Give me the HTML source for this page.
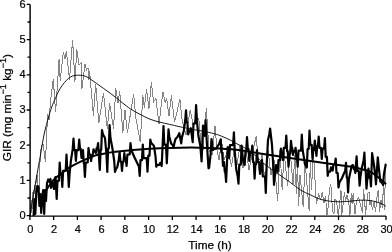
<!DOCTYPE html>
<html><head><meta charset="utf-8"><style>
html,body{margin:0;padding:0;background:#fff;}
body{width:392px;height:252px;overflow:hidden;font-family:"Liberation Sans",sans-serif;}
svg{display:block;} text{filter:grayscale(1);}
</style></head><body>
<svg width="392" height="252" viewBox="0 0 392 252">
<polyline points="30.5,216.0 31.2,200.0 31.9,213.0 32.6,192.0 33.3,208.0 34.2,185.0 35.2,196.0 36.3,178.0 37.0,175.0 38.8,196.0 40.4,152.0 42.0,145.0 43.0,144.0 45.5,162.0 47.6,114.0 49.0,120.0 50.7,100.0 53.3,79.3 55.6,112.0 59.1,59.2 60.2,80.8 63.3,52.2 64.9,59.2 66.4,50.7 69.5,80.0 72.6,39.9 74.9,81.6 76.8,49.1 79.0,65.0 81.1,63.0 81.9,89.3 85.0,63.8 86.5,70.0 88.0,67.7 88.8,80.0 89.6,71.5 93.4,115.5 95.7,84.0 98.8,123.0 103.5,93.0 107.3,129.0 109.6,103.0 113.5,128.6 115.8,88.5 118.1,103.0 119.7,91.0 122.8,133.0 125.0,110.0 127.4,133.0 133.6,94.0 136.0,119.0 140.3,142.0 142.8,95.5 144.3,107.8 146.6,89.3 149.0,108.6 151.3,82.3 153.6,101.6 155.9,98.5 159.0,124.3 162.9,91.6 165.2,102.4 166.7,98.5 169.0,116.0 171.4,95.5 174.5,122.0 176.0,116.0 179.9,99.3 182.2,121.0 186.0,135.0 190.3,109.6 193.0,125.0 196.0,118.0 198.8,118.9 201.0,145.0 203.0,150.0 206.3,108.5 209.0,150.0 212.0,155.0 215.0,126.3 217.0,150.0 219.0,160.0 221.5,139.2 224.0,160.0 228.0,150.0 231.5,166.6 234.0,150.0 237.0,165.0 240.0,145.0 243.0,168.0 246.0,150.0 249.0,170.0 252.0,155.0 256.2,136.2 259.0,170.0 262.0,155.0 265.0,180.0 268.0,150.0 271.0,175.0 274.0,160.0 277.7,201.0 280.0,150.0 282.2,190.0 284.0,152.0 287.7,186.0 290.0,150.0 293.0,184.0 295.0,155.0 296.3,194.0 297.5,160.0 298.6,206.0 300.0,175.0 303.3,207.4 305.0,160.0 307.0,185.0 309.2,211.0 310.3,160.0 311.5,190.4 313.3,150.0 316.4,204.3 318.7,193.5 320.5,200.0 322.3,191.9 324.0,203.0 325.5,196.0 327.0,215.1 328.3,206.0 329.3,190.0 330.8,184.2 332.5,211.0 333.9,214.3 335.0,199.0 336.5,201.0 338.2,215.6 339.5,205.0 341.0,190.0 341.6,216.0 343.0,205.0 344.5,192.2 345.5,201.0 347.0,195.0 348.8,203.0 349.9,215.6 351.3,193.3 352.1,204.4 353.2,193.5 355.0,213.9 356.5,201.0 358.6,196.7 359.3,201.0 360.5,205.0 362.5,212.8 363.5,188.7 364.8,202.7 365.5,215.0 367.9,193.5 369.0,192.0 370.0,205.0 371.0,199.6 372.5,210.0 374.1,201.2 375.5,212.0 377.2,195.0 378.3,190.0 379.5,212.0 381.0,200.0 382.5,208.0 383.5,180.0 384.5,210.0 385.6,163.0" fill="none" stroke="#858585" stroke-width="1" stroke-linejoin="miter" stroke-miterlimit="3" shape-rendering="crispEdges"/>
<path d="M30.00,215.60 C30.58,212.08 32.33,201.35 33.50,194.50 C34.67,187.65 35.87,180.92 37.00,174.50 C38.13,168.08 39.10,162.75 40.30,156.00 C41.50,149.25 42.78,140.65 44.20,134.00 C45.62,127.35 47.38,121.02 48.80,116.10 C50.22,111.18 51.53,107.60 52.70,104.50 C53.87,101.40 54.88,99.58 55.80,97.50 C56.72,95.42 57.12,94.03 58.20,92.00 C59.28,89.97 60.93,87.23 62.30,85.30 C63.67,83.37 65.02,81.80 66.40,80.40 C67.78,79.00 69.15,77.73 70.60,76.90 C72.05,76.07 73.42,75.67 75.10,75.40 C76.78,75.13 78.73,75.05 80.70,75.30 C82.67,75.55 84.32,75.58 86.90,76.90 C89.48,78.22 93.43,81.28 96.20,83.20 C98.97,85.12 101.08,86.67 103.50,88.40 C105.92,90.13 108.47,91.95 110.70,93.60 C112.93,95.25 115.02,96.82 116.90,98.30 C118.78,99.78 119.67,100.68 122.00,102.50 C124.33,104.32 127.90,107.23 130.90,109.20 C133.90,111.17 136.82,112.63 140.00,114.30 C143.18,115.97 146.67,117.88 150.00,119.20 C153.33,120.52 156.78,121.35 160.00,122.20 C163.22,123.05 165.97,123.53 169.30,124.30 C172.63,125.07 176.55,126.05 180.00,126.80 C183.45,127.55 187.00,128.20 190.00,128.80 C193.00,129.40 195.28,129.90 198.00,130.40 C200.72,130.90 203.20,131.13 206.30,131.80 C209.40,132.47 213.82,133.57 216.60,134.40 C219.38,135.23 220.65,135.82 223.00,136.80 C225.35,137.78 228.37,139.12 230.70,140.30 C233.03,141.48 235.12,142.90 237.00,143.90 C238.88,144.90 240.00,145.15 242.00,146.30 C244.00,147.45 246.67,149.18 249.00,150.80 C251.33,152.42 253.67,153.98 256.00,156.00 C258.33,158.02 260.50,160.73 263.00,162.90 C265.50,165.07 268.17,166.95 271.00,169.00 C273.83,171.05 276.78,172.97 280.00,175.20 C283.22,177.43 286.87,179.92 290.30,182.40 C293.73,184.88 297.17,187.98 300.60,190.10 C304.03,192.22 307.62,193.57 310.90,195.10 C314.18,196.63 317.02,198.27 320.30,199.30 C323.58,200.33 327.17,200.88 330.60,201.30 C334.03,201.72 337.67,201.82 340.90,201.80 C344.13,201.78 346.77,201.47 350.00,201.20 C353.23,200.93 356.87,200.30 360.30,200.20 C363.73,200.10 367.17,200.07 370.60,200.60 C374.03,201.13 378.33,202.42 380.90,203.40 C383.47,204.38 385.15,205.98 386.00,206.50" fill="none" stroke="#000" stroke-width="0.9"/>
<polyline points="33.6,216.0 34.4,199.0 35.3,214.0 36.4,192.0 37.3,186.0 38.5,186.5 39.4,206.0 40.3,194.0 41.2,213.0 42.3,196.0 43.2,190.0 44.2,214.0 45.1,190.0 46.0,201.0 47.0,183.0 48.2,179.5 49.5,182.0 50.5,179.0 51.0,188.0 51.8,185.5 52.2,185.5 53.0,183.0 54.0,189.0 55.5,177.0 56.7,199.0 57.5,180.8 58.9,180.8 59.7,162.5 60.5,174.8 61.5,174.8 62.3,187.0 63.1,170.8 65.7,170.8 66.5,154.5 67.3,170.8 68.0,170.8 68.8,187.0 69.6,173.5 71.0,160.0 72.7,149.2 73.5,138.5 74.3,149.8 75.1,149.8 75.9,161.0 76.7,150.2 78.4,150.2 79.2,139.5 80.0,148.8 80.7,148.8 81.5,158.0 83.0,150.0 83.8,163.5 84.1,163.5 84.9,177.0 85.7,162.5 87.7,162.5 88.5,148.0 89.3,154.5 90.3,154.5 91.1,161.0 91.9,155.2 92.7,155.2 93.5,149.3 94.3,151.2 95.0,151.2 95.8,153.2 96.6,148.1 97.3,148.1 98.1,143.1 99.8,170.0 100.6,150.0 101.2,150.0 102.0,130.0 102.8,134.0 105.0,138.0 106.5,155.0 107.3,172.0 108.1,148.5 108.8,148.5 109.6,125.0 110.4,137.5 112.7,150.0 114.2,161.0 115.0,172.0 115.8,169.5 117.3,167.0 118.8,159.5 119.6,152.0 120.4,161.5 121.2,161.5 122.0,171.0 122.8,162.0 123.5,162.0 124.3,153.0 125.1,159.5 125.8,159.5 126.6,166.0 127.4,154.5 129.7,154.5 130.5,143.0 131.3,150.0 134.3,157.0 138.9,166.5 139.7,176.0 140.5,160.2 142.0,160.2 142.8,144.5 143.6,158.1 146.7,158.1 147.5,171.7 148.3,155.6 149.5,155.6 150.3,139.5 151.1,142.8 154.0,146.0 155.5,156.3 156.3,166.7 157.1,164.8 159.4,164.8 160.2,162.8 161.7,166.0 163.5,126.0 164.3,144.7 166.0,144.7 166.8,163.3 168.5,129.4 169.3,136.4 171.1,143.4 172.8,145.3 173.6,147.2 174.4,143.1 175.5,139.0 177.4,137.0 178.5,135.1 179.3,133.2 181.2,143.4 182.0,137.1 183.8,130.7 185.2,120.5 186.0,110.4 186.8,122.5 187.4,122.5 188.2,134.5 189.0,131.3 190.0,131.3 190.8,128.2 192.7,142.1 193.5,123.5 195.3,123.5 196.1,105.0 196.9,120.4 198.4,135.8 200.3,145.9 201.6,161.5 203.0,125.6 204.7,135.8 205.6,120.0 207.0,145.0 208.5,168.3 209.1,168.0 210.7,153.5 211.5,139.0 213.0,150.0 213.8,149.2 216.1,148.5 219.2,143.9 220.7,139.3 221.5,152.6 222.2,152.6 223.0,165.8 224.0,162.0 224.8,172.0 225.3,172.0 226.1,182.0 227.7,147.0 229.2,157.8 230.0,145.1 233.1,145.1 233.9,132.3 234.7,150.7 236.2,169.0 237.7,176.3 238.5,183.6 239.3,164.6 240.8,164.6 241.6,145.5 243.1,160.9 244.7,165.0 245.5,151.0 246.2,151.0 247.0,137.0 247.8,148.9 248.5,148.9 249.3,160.9 250.1,153.2 251.5,153.2 252.3,145.5 253.1,162.1 253.8,162.1 254.6,178.6 255.4,164.3 256.2,164.3 257.0,150.0 257.8,162.0 259.2,162.0 260.0,174.0 260.8,167.0 261.2,167.0 262.0,160.0 262.8,176.5 265.0,176.5 265.8,193.0 266.6,166.5 268.0,140.0 269.3,134.2 270.1,128.5 272.0,145.0 273.2,164.9 274.0,184.8 274.8,174.9 275.2,174.9 276.0,165.0 277.7,171.7 278.5,160.1 280.1,160.1 280.9,148.6 281.7,154.3 282.2,154.3 283.0,160.0 283.8,147.8 285.5,147.8 286.3,135.5 287.1,151.1 287.7,151.1 288.5,166.7 289.3,153.8 290.2,153.8 291.0,140.9 291.8,147.9 292.2,147.9 293.0,155.0 293.8,151.4 294.8,151.4 295.6,147.8 296.4,157.2 296.9,157.2 297.7,166.7 298.5,150.7 301.0,150.7 301.8,134.7 302.6,149.3 304.9,163.9 306.0,165.7 306.8,167.5 307.6,149.0 308.7,149.0 309.5,130.5 310.3,144.8 311.7,144.8 312.5,159.0 313.3,149.8 314.0,149.8 314.8,140.5 316.4,155.9 317.2,146.2 317.9,146.2 318.7,136.6 319.5,147.8 321.0,147.8 321.8,159.0 322.6,148.6 324.1,148.6 324.9,138.1 325.7,156.9 326.9,156.9 327.7,175.8 328.5,171.6 330.2,171.6 331.0,167.4 332.6,170.5 333.4,164.5 334.9,164.5 335.7,158.5 336.5,173.0 337.7,173.0 338.5,187.5 339.3,182.8 341.9,178.2 345.2,170.6 346.0,162.9 346.8,177.7 347.3,177.7 348.1,192.5 348.9,179.1 351.7,165.7 353.0,165.1 353.8,169.0 354.5,169.0 355.3,172.9 356.6,156.3 357.4,171.0 358.8,171.0 359.6,185.7 360.4,177.1 361.7,168.6 363.6,160.6 364.4,152.7 365.2,170.6 365.7,170.6 366.5,188.6 367.3,178.6 367.7,178.6 368.5,168.6 369.3,177.5 370.2,177.5 371.0,186.4 372.1,153.2 374.0,165.0 375.2,174.7 376.0,184.3 377.8,157.3 378.9,168.6 380.3,181.4 382.3,183.2 383.1,185.0 383.9,174.5 385.8,164.0" fill="none" stroke="#000" stroke-width="2.2" stroke-linejoin="round" />
<path d="M42.00,197.00 C42.67,195.92 44.67,192.58 46.00,190.50 C47.33,188.42 48.50,186.50 50.00,184.50 C51.50,182.50 53.00,180.42 55.00,178.50 C57.00,176.58 59.50,174.88 62.00,173.00 C64.50,171.12 66.72,169.17 70.00,167.20 C73.28,165.23 77.53,163.13 81.70,161.20 C85.87,159.27 91.95,156.73 95.00,155.60 C98.05,154.47 96.58,155.03 100.00,154.40 C103.42,153.77 108.83,152.62 115.50,151.80 C122.17,150.98 132.58,150.08 140.00,149.50 C147.42,148.92 153.33,148.60 160.00,148.30 C166.67,148.00 173.33,147.80 180.00,147.70 C186.67,147.60 193.33,147.55 200.00,147.70 C206.67,147.85 213.33,148.17 220.00,148.60 C226.67,149.03 233.33,149.48 240.00,150.30 C246.67,151.12 253.33,152.45 260.00,153.50 C266.67,154.55 273.00,155.57 280.00,156.60 C287.00,157.63 294.90,158.67 302.00,159.70 C309.10,160.73 315.93,161.82 322.60,162.80 C329.27,163.78 336.60,164.83 342.00,165.60 C347.40,166.37 350.83,166.58 355.00,167.40 C359.17,168.22 364.17,169.58 367.00,170.50 C369.83,171.42 370.50,172.05 372.00,172.90 C373.50,173.75 374.67,174.62 376.00,175.60 C377.33,176.58 378.33,177.37 380.00,178.80 C381.67,180.23 385.00,183.30 386.00,184.20" fill="none" stroke="#000" stroke-width="2"/>
<path d="M30.1,4.40 V216.1 H386.00" fill="none" stroke="#000" stroke-width="1.45"/>
<path d="M26.70,215.60H30.1 M27.50,198.00H30.1 M26.70,180.40H30.1 M27.50,162.80H30.1 M26.70,145.20H30.1 M27.50,127.60H30.1 M26.70,110.00H30.1 M27.50,92.40H30.1 M26.70,74.80H30.1 M27.50,57.20H30.1 M26.70,39.60H30.1 M27.50,22.00H30.1 M26.70,4.40H30.1 M29.90,216.1V219.90 M53.64,216.1V219.90 M77.38,216.1V219.90 M101.12,216.1V219.90 M124.86,216.1V219.90 M148.60,216.1V219.90 M172.34,216.1V219.90 M196.08,216.1V219.90 M219.82,216.1V219.90 M243.56,216.1V219.90 M267.30,216.1V219.90 M291.04,216.1V219.90 M314.78,216.1V219.90 M338.52,216.1V219.90 M362.26,216.1V219.90 M386.00,216.1V219.90" fill="none" stroke="#000" stroke-width="1.3"/>
<g font-family="Liberation Sans, sans-serif" font-size="11" fill="#000" stroke="#000" stroke-width="0.2"><text x="25.5" y="218.90" text-anchor="end">0</text><text x="25.5" y="183.70" text-anchor="end">1</text><text x="25.5" y="148.50" text-anchor="end">2</text><text x="25.5" y="113.30" text-anchor="end">3</text><text x="25.5" y="78.10" text-anchor="end">4</text><text x="25.5" y="42.90" text-anchor="end">5</text><text x="25.5" y="7.70" text-anchor="end">6</text><text x="30.40" y="232.7" text-anchor="middle">0</text><text x="54.14" y="232.7" text-anchor="middle">2</text><text x="77.88" y="232.7" text-anchor="middle">4</text><text x="101.62" y="232.7" text-anchor="middle">6</text><text x="125.36" y="232.7" text-anchor="middle">8</text><text x="149.10" y="232.7" text-anchor="middle">10</text><text x="172.84" y="232.7" text-anchor="middle">12</text><text x="196.58" y="232.7" text-anchor="middle">14</text><text x="220.32" y="232.7" text-anchor="middle">16</text><text x="244.06" y="232.7" text-anchor="middle">18</text><text x="267.80" y="232.7" text-anchor="middle">20</text><text x="291.54" y="232.7" text-anchor="middle">22</text><text x="315.28" y="232.7" text-anchor="middle">24</text><text x="339.02" y="232.7" text-anchor="middle">26</text><text x="362.76" y="232.7" text-anchor="middle">28</text><text x="386.50" y="232.7" text-anchor="middle">30</text></g>
<text x="210.0" y="248.8" text-anchor="middle" font-family="Liberation Sans, sans-serif" font-size="11.8" stroke="#000" stroke-width="0.25">Time (h)</text>
<text transform="translate(10.8,107.7) rotate(-90)" text-anchor="middle" font-family="Liberation Sans, sans-serif" font-size="11.8" stroke="#000" stroke-width="0.25">GIR (mg min<tspan dy="-4.5" font-size="9">−1</tspan><tspan dy="4.5"> kg</tspan><tspan dy="-4.5" font-size="9">−1</tspan><tspan dy="4.5">)</tspan></text>
</svg>
</body></html>
